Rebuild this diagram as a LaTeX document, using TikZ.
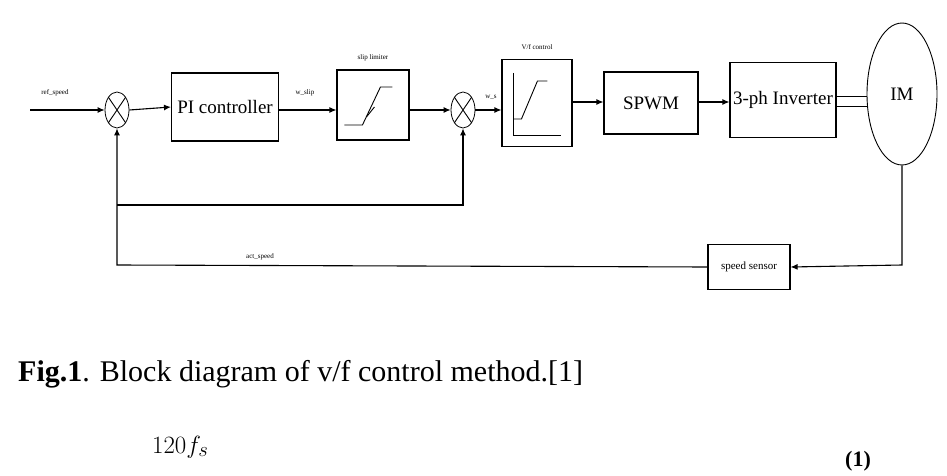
\documentclass[tikz,border=0pt]{standalone}
\usepackage{fontspec}
\setmainfont{Liberation Serif}
\usetikzlibrary{shapes.geometric,arrows.meta}
\begin{document}
\begin{tikzpicture}[x=1pt,y=-1pt,
  blk/.style={draw,line width=1.1pt,inner sep=0pt},
  sm/.style={font=\fontsize{7}{8}\selectfont,inner sep=1pt},
  sumj/.style={draw,ellipse,minimum width=24pt,minimum height=36pt,inner sep=0pt,line width=0.8pt},
  arr/.style={-{Latex[length=7pt,width=6pt]},line width=1.1pt},
  ln/.style={line width=0.9pt}]
\useasboundingbox (0,0) rectangle (947,476);
% sums
\node[sumj] (s1) at (117,110) {};
\draw[ln] (s1.north west)--(s1.south east) (s1.north east)--(s1.south west);
\node[sumj] (s2) at (463,110) {};
\draw[ln] (s2.north west)--(s2.south east) (s2.north east)--(s2.south west);
% blocks
\node[blk,minimum width=107pt,minimum height=68pt,font=\fontsize{19}{20}\selectfont] (pi) at (225,107) {PI controller};
\node[blk,minimum width=72pt,minimum height=70pt] (sl) at (373,105) {};
\draw[ln] ([shift={(8,20)}]sl.west)--++(18,0)--++(18,-38)--++(12,0);
\draw[ln] ([shift={(30,12)}]sl.west)--++(8,-10);
\node[blk,minimum width=70pt,minimum height=87pt] (vf) at (537,103) {};
\draw[ln] ([shift={(12,-30)}]vf.west)--([shift={(12,32)}]vf.west)--([shift={(60,32)}]vf.west);
\draw[ln] ([shift={(12,16)}]vf.west)--++(8,0)--++(16,-38)--++(10,0);
\node[blk,minimum width=94pt,minimum height=62pt,font=\fontsize{19}{20}\selectfont] (sp) at (651,103) {SPWM};
\node[blk,minimum width=106pt,minimum height=75pt,font=\fontsize{19}{20}\selectfont] (inv) at (783,100) {3-ph Inverter};
\node[draw,ellipse,minimum width=70pt,minimum height=142pt,line width=0.9pt,font=\fontsize{19}{20}\selectfont] (im) at (902,94) {IM};
\node[blk,minimum width=82pt,minimum height=45pt,font=\fontsize{11}{12}\selectfont] (ss) at (749,267) {speed sensor};
% labels
\node[sm] at (55,93) {ref\_speed};
\node[sm] at (305,93) {w\_slip};
\node[sm] at (373,58) {slip limiter};
\node[sm] at (491,97) {w\_s};
\node[sm] at (537,47) {V/f control};
\node[sm] at (260,257) {act\_speed};
% connectors
\coordinate (in) at (30,110);
\draw[arr] (in)--(s1.west);
\draw[arr] (s1.east)--(pi.west);
\draw[arr] (pi.east|-0,110)--(sl.west|-0,110);
\draw[arr] (sl.east|-0,110)--(s2.west);
\draw[arr] (s2.east)--(vf.west|-0,110);
\draw[arr] (vf.east|-0,102)--(sp.west|-0,102);
\draw[arr] (sp.east|-0,102)--(inv.west|-0,102);
\draw[ln] (inv.east|-0,96)--(im.west|-0,96) (inv.east|-0,106)--(im.west|-0,106);
\coordinate (c1) at (902,265);
\coordinate (c2) at (117,265);
\coordinate (c3) at (117,205);
\coordinate (c4) at (463,205);
\draw[arr] (im.south)--(c1)--(ss.east);
\draw[arr] (ss.west)--(c2)--(s1.south);
\draw[arr] (c3)--(c4)--(s2.south);
% caption
\node[anchor=base west,inner sep=0pt,font=\fontsize{30}{32}\selectfont] (cap) at (18,381) {\textbf{Fig.1}. Block diagram of v/f control method.[1]};
\node[anchor=base west,inner sep=0pt,font=\fontsize{32}{34}\selectfont] (eq) at (152,453) {$120f_s$};
\node[anchor=base west,inner sep=0pt,font=\fontsize{22}{24}\selectfont] (n1) at (845,466) {\textbf{(1)}};
\end{tikzpicture}
\end{document}
